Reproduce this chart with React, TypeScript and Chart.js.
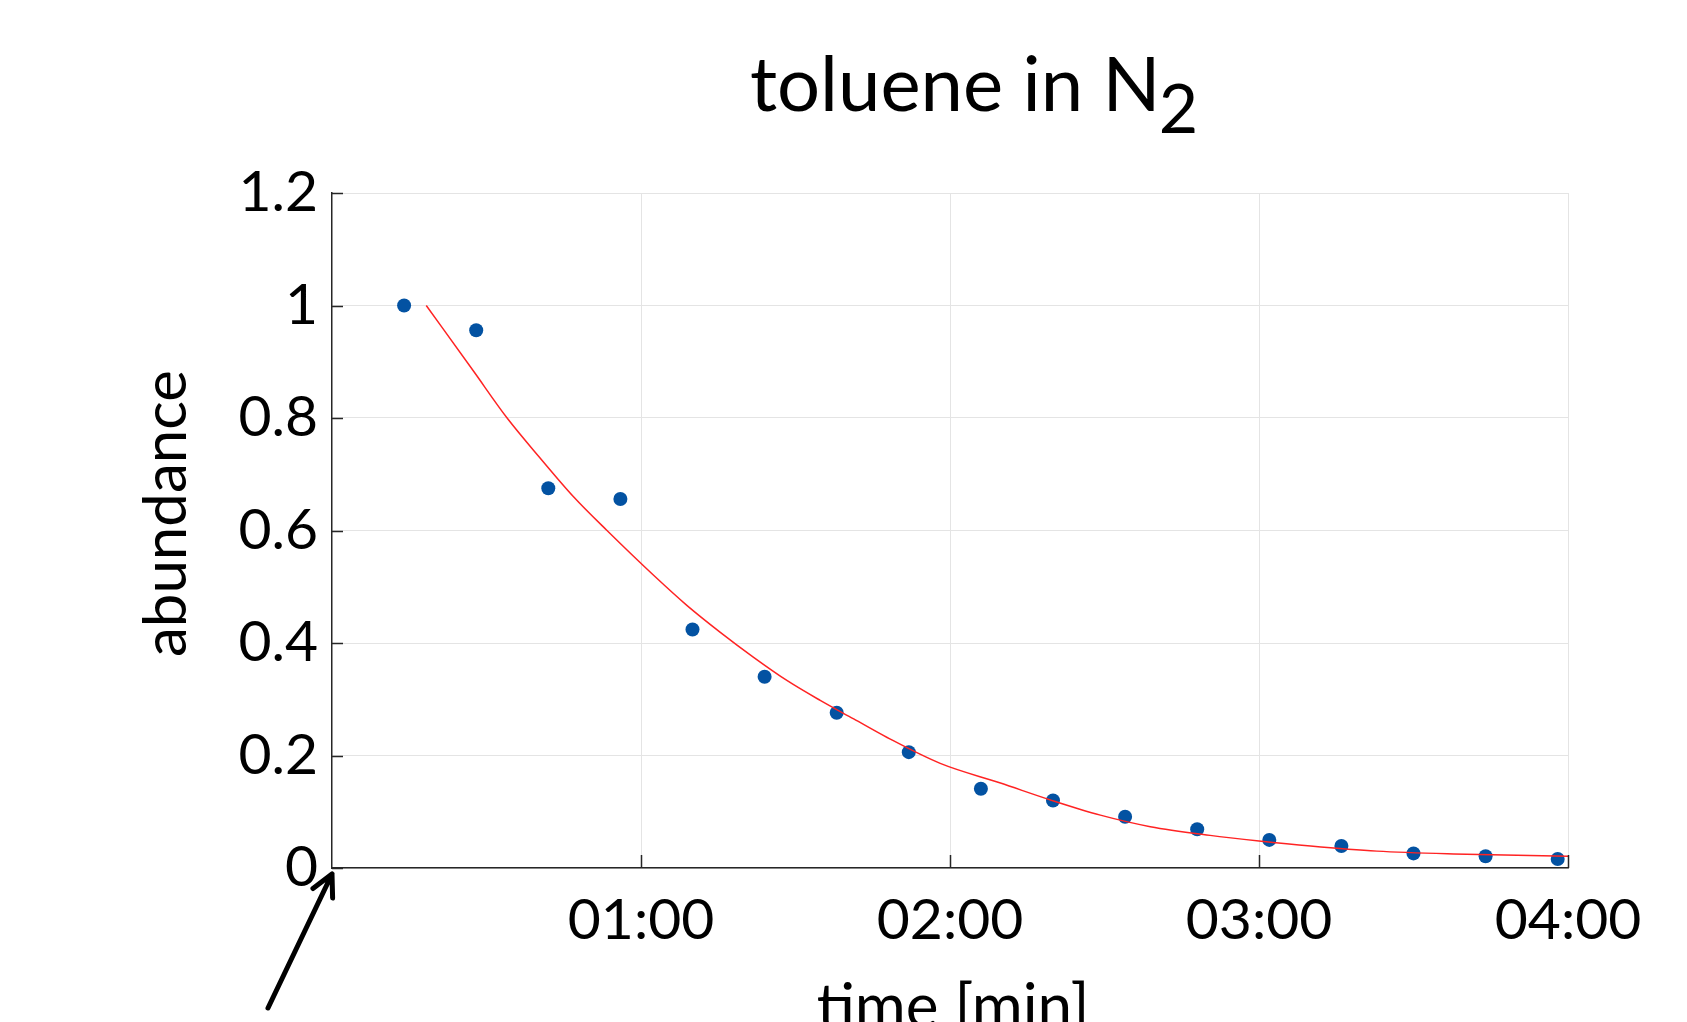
import React, { useEffect, useRef } from 'react';
import { Chart, registerables } from 'chart.js';

Chart.register(...registerables);

// Measured toluene abundance, sampled every 14 s
const sampleTimes = [14, 28, 42, 56, 70, 84, 98, 112, 126, 140, 154, 168, 182, 196, 210, 224, 238];
const abundance = [1.0, 0.956, 0.675, 0.656, 0.424, 0.34, 0.276, 0.206, 0.141, 0.12, 0.091, 0.069, 0.05, 0.039, 0.026, 0.021, 0.016];

// Fitted decay curve
const fitTimes = [18.3, 27.5, 34.0, 40.4, 46.9, 53.4, 62.5, 68.9, 75.4, 81.8, 88.4, 94.8, 101.3, 107.8, 118.1, 129.8, 139.5, 149.2, 158.9, 170.5, 180, 190, 202.9, 217.8, 240];
const fitAbundance = [1.0, 0.883, 0.8, 0.729, 0.66, 0.6, 0.52, 0.467, 0.419, 0.375, 0.333, 0.298, 0.265, 0.232, 0.186, 0.151, 0.121, 0.094, 0.0735, 0.058, 0.048, 0.039, 0.03, 0.025, 0.021];

// Axis ticks (x in seconds, shown as mm:ss)
const xTickValues = [60, 120, 180, 240];
const xTickLabels = ['01:00', '02:00', '03:00', '04:00'];
const yTickValues = [0, 0.2, 0.4, 0.6, 0.8, 1, 1.2];
const yTickLabels = ['0', '0.2', '0.4', '0.6', '0.8', '1', '1.2'];

const FONT = 'Lato';
const AXIS_COLOR = '#262626';
const GRID_COLOR = '#e4e4e4';

const decorations = {
  id: 'decorations',
  afterDraw(chart: any) {
    const { ctx, chartArea, scales } = chart;
    const { left, right, top, bottom } = chartArea;
    ctx.save();

    // inward tick marks
    ctx.strokeStyle = AXIS_COLOR;
    ctx.lineWidth = 1.5;
    ctx.beginPath();
    for (const v of yTickValues) {
      const y = Math.round(scales.y.getPixelForValue(v)) + 0.5;
      ctx.moveTo(left, y);
      ctx.lineTo(left + 11, y);
    }
    for (const v of xTickValues) {
      const x = Math.round(scales.x.getPixelForValue(v)) + 0.5;
      ctx.moveTo(x, bottom);
      ctx.lineTo(x, bottom - 13);
    }
    ctx.stroke();

    ctx.fillStyle = '#000';

    // title with subscript
    const mainText = 'toluene in N';
    const subText = '2';
    ctx.textBaseline = 'alphabetic';
    ctx.textAlign = 'left';
    ctx.font = `76px ${FONT}`;
    const w1 = ctx.measureText(mainText).width;
    ctx.font = `68px ${FONT}`;
    const w2 = ctx.measureText(subText).width;
    const gap = -2;
    const cx = (left + right) / 2 + 24;
    const x0 = cx - (w1 + gap + w2) / 2;
    ctx.font = `76px ${FONT}`;
    ctx.fillText(mainText, x0, 111);
    ctx.font = `68px ${FONT}`;
    ctx.fillText(subText, x0 + w1 + gap, 133);

    // axis titles
    ctx.font = `62px ${FONT}`;
    ctx.textAlign = 'center';
    ctx.textBaseline = 'middle';
    ctx.fillText('time [min]', (left + right) / 2 + 3, bottom + 140);

    ctx.save();
    ctx.font = `60px ${FONT}`;
    ctx.translate(167, (top + bottom) / 2 - 17);
    ctx.rotate(-Math.PI / 2);
    ctx.fillText('abundance', 0, 0);
    ctx.restore();

    // arrow pointing at the origin
    const tipX = left;
    const tipY = bottom + 6;
    const tailX = left - 64;
    const tailY = bottom + 140;
    const ang = Math.atan2(tailY - tipY, tailX - tipX);
    const armLen = 24;
    const spread = (27 * Math.PI) / 180;
    ctx.strokeStyle = '#000';
    ctx.lineWidth = 5;
    ctx.lineCap = 'round';
    ctx.lineJoin = 'round';
    ctx.beginPath();
    ctx.moveTo(tailX, tailY);
    ctx.lineTo(tipX, tipY);
    ctx.moveTo(tipX + armLen * Math.cos(ang + spread), tipY + armLen * Math.sin(ang + spread));
    ctx.lineTo(tipX, tipY);
    ctx.lineTo(tipX + armLen * Math.cos(ang - spread), tipY + armLen * Math.sin(ang - spread));
    ctx.stroke();

    ctx.restore();
  },
};

export default function App() {
  const canvasRef = useRef<HTMLCanvasElement | null>(null);

  useEffect(() => {
    if (!canvasRef.current) return;
    const chart = new Chart(canvasRef.current, {
      type: 'scatter',
      data: {
        datasets: [
          {
            type: 'line',
            label: 'fit',
            data: fitTimes.map((t, i) => ({ x: t, y: fitAbundance[i] })),
            borderColor: 'rgb(255, 35, 35)',
            borderWidth: 1.5,
            pointRadius: 0,
            fill: false,
            cubicInterpolationMode: 'monotone',
            order: 0,
          } as any,
          {
            type: 'scatter',
            label: 'abundance',
            data: sampleTimes.map((t, i) => ({ x: t, y: abundance[i] })),
            backgroundColor: 'rgb(3, 82, 162)',
            borderWidth: 0,
            pointRadius: 7,
            order: 1,
          },
        ],
      },
      options: {
        animation: false,
        responsive: false,
        devicePixelRatio: 1,
        layout: { padding: { top: 193, right: 119, left: 0, bottom: 0 } },
        plugins: {
          legend: { display: false },
          tooltip: { enabled: false },
          title: { display: false },
        },
        scales: {
          x: {
            type: 'linear',
            min: 0,
            max: 240,
            afterBuildTicks: (s: any) => {
              s.ticks = xTickValues.map((v) => ({ value: v }));
            },
            afterFit: (s: any) => {
              s.height = 154;
            },
            grid: { color: GRID_COLOR, lineWidth: 1, drawTicks: false },
            border: { display: true, color: AXIS_COLOR, width: 1.5 },
            ticks: {
              autoSkip: false,
              maxRotation: 0,
              padding: 18,
              color: '#000',
              font: { family: FONT, size: 57 },
              callback: (v: any) => {
                const i = xTickValues.indexOf(Number(v));
                return i >= 0 ? xTickLabels[i] : '';
              },
            },
          },
          y: {
            type: 'linear',
            min: 0,
            max: 1.2,
            afterBuildTicks: (s: any) => {
              s.ticks = yTickValues.map((v) => ({ value: v }));
            },
            afterFit: (s: any) => {
              s.width = 332;
            },
            grid: { color: GRID_COLOR, lineWidth: 1, drawTicks: false },
            border: { display: true, color: AXIS_COLOR, width: 1.5 },
            ticks: {
              autoSkip: false,
              padding: 14,
              color: '#000',
              font: { family: FONT, size: 57 },
              callback: (v: any) => {
                const i = yTickValues.findIndex((t) => Math.abs(t - Number(v)) < 1e-9);
                return i >= 0 ? yTickLabels[i] : '';
              },
            },
          },
        },
      },
      plugins: [decorations],
    });
    return () => chart.destroy();
  }, []);

  return (
    <div style={{ position: 'absolute', left: 0, top: 0, width: 1687, height: 1022, overflow: 'hidden', background: '#fff' }}>
      <canvas ref={canvasRef} width={1687} height={1022} style={{ display: 'block' }} />
    </div>
  );
}
